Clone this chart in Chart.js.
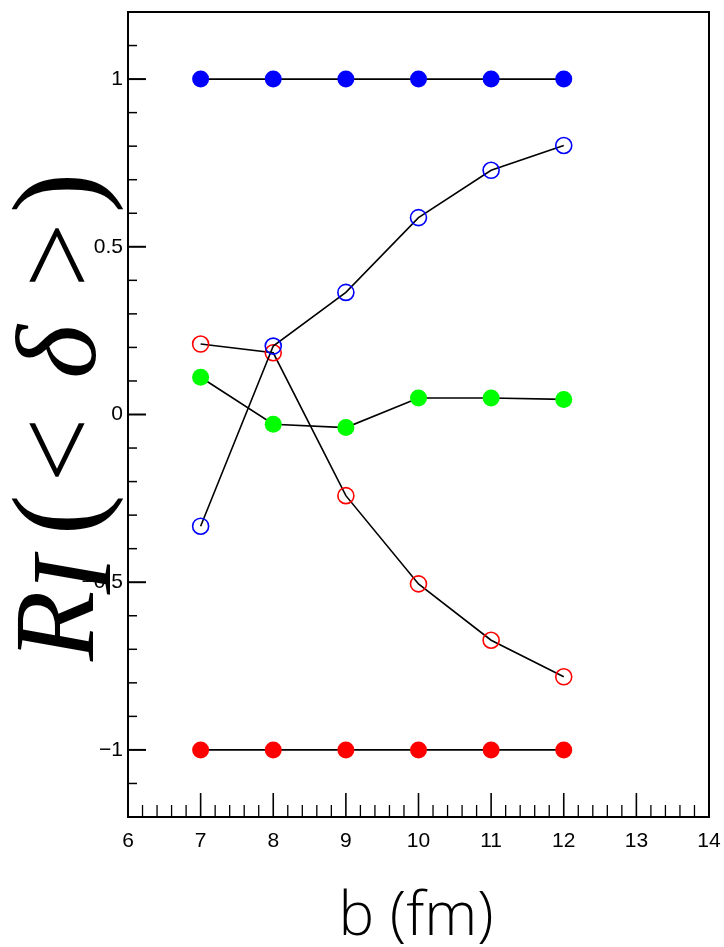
<!DOCTYPE html>
<html>
<head>
<meta charset="utf-8">
<script src="https://cdn.jsdelivr.net/npm/chart.js@4.4.0/dist/chart.umd.min.js"></script>
<style>
  html, body { margin: 0; padding: 0; background: #fff; }
  canvas { display: block; }
</style>
</head>
<body>
<canvas id="chart" width="724" height="947"></canvas>
<script>
// --- DATA ---
const bValues = [7, 8, 9, 10, 11, 12];
const blueFilled = [1, 1, 1, 1, 1, 1];
const redFilled = [-1, -1, -1, -1, -1, -1];
const blueOpen = [-0.333, 0.204, 0.364, 0.587, 0.728, 0.802];
const redOpen = [0.210, 0.184, -0.242, -0.505, -0.673, -0.782];
const greenFilled = [0.111, -0.029, -0.039, 0.049, 0.049, 0.045];

const xTickValues = [6, 7, 8, 9, 10, 11, 12, 13, 14];
const yTickValues = [-1, -0.5, 0, 0.5, 1];

const toPoints = ys => ys.map((y, i) => ({ x: bValues[i], y }));

function series(ys, color, open) {
    return {
        data: toPoints(ys),
        showLine: true,
        tension: 0,
        borderColor: '#000',
        borderWidth: 1.6,
        pointRadius: open ? 8 : 8.5,
        pointBorderWidth: open ? 1.6 : 0,
        pointBorderColor: color,
        pointBackgroundColor: open ? 'rgba(0,0,0,0)' : color
    };
}

// scale label overhang would shift the plot frame, drop it
function noPad(s) {
    s.paddingLeft = s.paddingRight = s.paddingTop = s.paddingBottom = 0;
}

// --- FRAME, TICKS AND TITLES ---
const rootStyle = {
    id: 'rootStyle',
    afterDraw(chart) {
        const ctx = chart.ctx;
        const a = chart.chartArea;
        const xs = chart.scales.x, ys = chart.scales.y;
        ctx.save();
        ctx.strokeStyle = '#000';

        // top and right frame
        ctx.lineWidth = 2;
        ctx.beginPath();
        ctx.moveTo(a.left, a.top); ctx.lineTo(a.right, a.top); ctx.lineTo(a.right, a.bottom);
        ctx.stroke();

        // x ticks (inward, every 0.2)
        for (let i = 0; i <= 40; i++) {
            const px = xs.getPixelForValue(6 + i * 0.2);
            const major = i % 5 === 0;
            ctx.lineWidth = major ? 1.6 : 1.3;
            ctx.beginPath();
            ctx.moveTo(px, a.bottom); ctx.lineTo(px, a.bottom - (major ? 24 : 12));
            ctx.stroke();
        }
        // y ticks (inward, every 0.1)
        for (let i = 0; i <= 24; i++) {
            const v = -1.2 + i * 0.1;
            const py = ys.getPixelForValue(v);
            const major = Math.round(v * 10) % 5 === 0;
            ctx.lineWidth = major ? 2 : 1.5;
            ctx.beginPath();
            ctx.moveTo(a.left, py); ctx.lineTo(a.left + (major ? 18 : 9), py);
            ctx.stroke();
        }

        // x title
        ctx.fillStyle = '#000';
        ctx.textAlign = 'center';
        ctx.textBaseline = 'alphabetic';
        ctx.font = '300 60px "Open Sans"';
        ctx.fillText('b (fm)', 416, 935);

        // y title, rotated, glyph by glyph
        const glyphs = [
            { t: 'R', y: 626, base: 93, italic: true, size: 115 },
            { t: 'I', y: 575, base: 110, italic: true, size: 115 },
            { t: '(', y: 515, base: 97, italic: false, size: 122 },
            { t: '<', y: 450, base: 95, italic: false, size: 115 },
            { t: 'δ', y: 352, base: 95, italic: true, size: 115 },
            { t: '>', y: 255, base: 95, italic: false, size: 115 },
            { t: ')', y: 193, base: 97, italic: false, size: 122 }
        ];
        ctx.rotate(-Math.PI / 2);
        glyphs.forEach(g => {
            ctx.font = (g.italic ? 'italic ' : '') + g.size + 'px "Liberation Serif"';
            ctx.fillText(g.t, -g.y, g.base);
        });
        ctx.restore();
    }
};

const fmt = v => (v < 0 ? '\u2212' : '') + String(Math.abs(v));

new Chart(document.getElementById('chart'), {
    type: 'scatter',
    data: {
        datasets: [
            series(blueFilled, '#0000ff', false),
            series(blueOpen, '#0000ff', true),
            series(redOpen, '#ff0000', true),
            series(greenFilled, '#00ff00', false),
            series(redFilled, '#ff0000', false)
        ]
    },
    options: {
        responsive: false,
        animation: false,
        layout: { padding: { top: 12, right: 15, left: 0, bottom: 0 } },
        plugins: { legend: { display: false }, tooltip: { enabled: false } },
        scales: {
            x: {
                type: 'linear', min: 6, max: 14,
                afterBuildTicks: s => { s.ticks = xTickValues.map(v => ({ value: v })); },
                afterFit: s => { s.height = 130; noPad(s); },
                grid: { display: true, drawOnChartArea: false, drawTicks: false },
                border: { display: true, color: '#000', width: 2 },
                ticks: {
                    padding: 12, color: '#000', maxRotation: 0,
                    font: { family: '"Liberation Sans"', size: 21 },
                    callback: v => fmt(v)
                }
            },
            y: {
                type: 'linear', min: -1.2, max: 1.2,
                afterBuildTicks: s => { s.ticks = yTickValues.map(v => ({ value: v })); },
                afterFit: s => { s.width = 128; noPad(s); },
                grid: { display: true, drawOnChartArea: false, drawTicks: false },
                border: { display: true, color: '#000', width: 2 },
                ticks: {
                    padding: 5, color: '#000',
                    font: { family: '"Liberation Sans"', size: 21 },
                    callback: v => fmt(v)
                }
            }
        }
    },
    plugins: [rootStyle]
});
</script>
</body>
</html>
